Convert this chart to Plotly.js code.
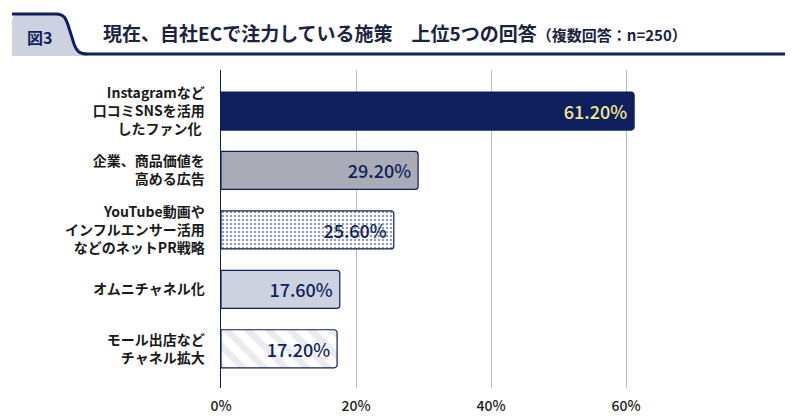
<!DOCTYPE html>
<html>
<head>
<meta charset="utf-8">
<script src="https://cdn.plot.ly/plotly-3.0.1.min.js"></script>
<style>html,body{margin:0;padding:0;background:#fff;}#chart{width:800px;height:419px;}</style>
</head>
<body>
<div id="chart"></div>
<script>
// ---- data ----
const categories = [
  "Instagramなど<br>口コミSNSを活用<br>したファン化 ",
  "企業、商品価値を<br>高める広告",
  "YouTube動画や<br>インフルエンサー活用<br>などのネットPR戦略",
  "オムニチャネル化",
  "モール出店など<br>チャネル拡大"
];
const values = [61.2, 29.2, 25.6, 17.6, 17.2];
const xTickVals = [0, 20, 40, 60, 80];
const xTickText = ["0%", "20%", "40%", "60%", ""];
const titleMain = "現在、自社ECで注力している施策　上位5つの回答";
const titleSub = "（複数回答：n=250）";
const figLabel = "図3";

// ---- styles ----
const NAVY = "#0f1f5e";
const FONT = "Noto Sans CJK JP";
const W = 800, H = 419;
const M = {l: 221, r: 39, t: 70, b: 31};
const PW = W - M.l - M.r, PH = H - M.t - M.b;
const px = x => ((x - M.l) / PW).toFixed(4);
const py = y => (1 - (y - M.t) / PH).toFixed(4);
function path(cmds) {
  return cmds.map(c => {
    const L = c[0]; const pts = [];
    for (let i = 1; i < c.length; i += 2) pts.push(px(c[i]) + "," + py(c[i + 1]));
    return L + pts.join(" ");
  }).join(" ");
}

const tabFill = path([
  ["M", 12, 56], ["L", 12, 21], ["Q", 12, 14, 19, 14], ["L", 56, 14],
  ["C", 64, 14, 66, 18, 69, 28], ["L", 74, 44], ["C", 77, 52, 80, 54, 88, 54],
  ["L", 88, 56], ["L", 16, 56]
]) + " Z";
const tabLine = path([
  ["M", 12, 14], ["L", 56, 14],
  ["C", 64, 14, 66, 18, 69, 28], ["L", 74, 44], ["C", 77, 52, 80, 54, 88, 54],
  ["L", 785, 54]
]);

const barStyles = [
  {color: NAVY, text: "#f4ea8c"},
  {color: "#a9abb6", text: NAVY},
  {color: "#ffffff", text: NAVY, pattern: {shape: ".", fgcolor: "#2c3766", bgcolor: "#ffffff", size: 4, solidity: 0.3, fillmode: "overlay"}},
  {color: "#cdd2e1", text: NAVY},
  {color: "#ffffff", text: NAVY, pattern: {shape: "\\", fgcolor: "#d6d8df", bgcolor: "#ffffff", size: 15, solidity: 0.45, fillmode: "overlay"}}
];

const traces = values.map((v, i) => {
  const s = barStyles[i];
  const marker = {color: s.color, line: {color: NAVY, width: 1.2}, cornerradius: 3};
  if (s.pattern) marker.pattern = s.pattern;
  return {
    type: "bar", orientation: "h",
    y: [categories[i]], x: [v],
    text: [v.toFixed(2) + "%\u00a0"],
    textposition: "inside", insidetextanchor: "end",
    textfont: {family: FONT, size: 18, weight: 500, color: s.text},
    constraintext: "none",
    width: 0.64,
    marker: marker,
    hoverinfo: "skip"
  };
});

const layout = {
  width: W, height: H,
  margin: M,
  barmode: "overlay",
  paper_bgcolor: "#fff", plot_bgcolor: "#fff",
  showlegend: false,
  font: {family: FONT, color: "#1a1a1a"},
  xaxis: {
    range: [0, 80],
    tickvals: xTickVals, ticktext: xTickText,
    showgrid: true, gridcolor: "#bdbdbd", gridwidth: 1,
    zeroline: false, showline: false, ticks: "",
    ticklabelstandoff: 8,
    tickfont: {family: FONT, size: 14, weight: 500, color: "#1a1a1a"},
    fixedrange: true
  },
  yaxis: {
    type: "category",
    categoryorder: "array", categoryarray: categories,
    range: [4.66, -0.69],
    showline: true, linecolor: NAVY, linewidth: 1.5,
    showgrid: false, zeroline: false, ticks: "",
    ticklabelstandoff: 12,
    tickfont: {family: FONT, size: 14, weight: 700, color: "#1a1a1a"},
    fixedrange: true
  },
  shapes: [
    {type: "path", xref: "paper", yref: "paper", path: tabFill,
     fillcolor: "#cdd2e1", line: {width: 0}, layer: "above"},
    {type: "path", xref: "paper", yref: "paper", path: tabLine,
     fillcolor: "rgba(0,0,0,0)", line: {color: NAVY, width: 3}, layer: "above"}
  ],
  annotations: [
    {xref: "paper", yref: "paper", x: px(39), y: py(37), xanchor: "center", yanchor: "middle",
     text: "<b>" + figLabel + "</b>", showarrow: false,
     font: {family: FONT, size: 16, color: NAVY}},
    {xref: "paper", yref: "paper", x: px(101), y: py(33), xanchor: "left", yanchor: "middle",
     text: "<b>" + titleMain + "</b><span style='font-size:15px'><b>" + titleSub + "</b></span>",
     showarrow: false,
     font: {family: FONT, size: 19, color: "#1c2340"}}
  ]
};

Plotly.newPlot("chart", traces, layout, {displayModeBar: false, staticPlot: true});
</script>
</body>
</html>
